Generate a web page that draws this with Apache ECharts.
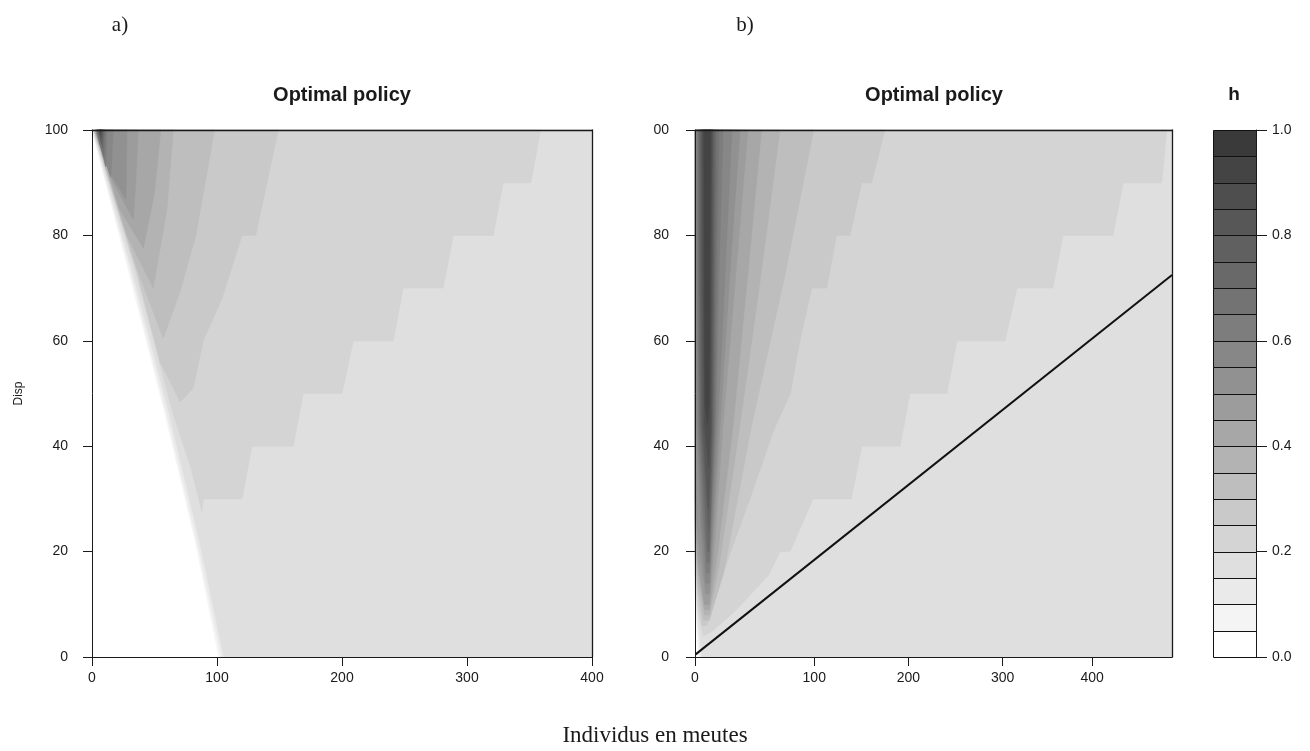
<!DOCTYPE html>
<html>
<head>
<meta charset="utf-8">
<script src="https://cdn.jsdelivr.net/npm/echarts@6/dist/echarts.min.js"></script>
<style>
  html, body { margin: 0; padding: 0; background: #ffffff; }
  #chart { width: 1310px; height: 751px; }
</style>
</head>
<body>
<div id="chart"></div>
<script>
// Contour levels of h (lower bound of each filled band)
const hLevels = [0.00, 0.05, 0.10, 0.15, 0.20, 0.25, 0.30, 0.35, 0.40, 0.45,
                 0.50, 0.55, 0.60, 0.65, 0.70, 0.75, 0.80, 0.85, 0.90, 0.95];
// Grey shade of each band, light (low h) to dark (high h)
const bandColors = ['#ffffff', '#f4f4f4', '#eaeaea', '#dfdfdf', '#d4d4d4', '#c9c9c9',
                    '#bebebe', '#b3b3b3', '#a7a7a7', '#9c9c9c', '#919191', '#878787',
                    '#7d7d7d', '#737373', '#696969', '#606060', '#575757', '#4e4e4e',
                    '#444444', '#3a3a3a'];

// Panel a): level of each region (h >= level) and its outline [Individus, Disp]
const leftRegionLevels = [0.05, 0.10, 0.15, 0.20, 0.25, 0.30, 0.35, 0.40, 0.45,
                          0.50, 0.55, 0.60, 0.65, 0.70, 0.75, 0.80, 0.85, 0.90];
const leftRegions = [
  [[0,100],[400,100],[400,0],[101.5,0],[82.5,22],[58.5,46],[29.5,73]],
  [[0.4,100],[400,100],[400,0],[103.5,0],[84,22],[60,46],[31,73]],
  [[0.8,100],[400,100],[400,0],[105.5,0],[86,22],[62,46],[32.5,73]],
  [[1.2,100],[359,100],[351,90],[329,90],[321,80],[289,80],[281,70],[249,70],[241,60],[209,60],
   [200,50],[169,50],[161,40],[128,40],[120,30],[89,30],[88,27.5],[79,36],[65,46],[35,73]],
  [[1.5,100],[149,100],[131,80],[120,80],[104,68],[89,60],[81,51],[70.5,48.4],[54.5,56],[36,73]],
  [[1.8,100],[98,100],[83,80],[70,69],[57,60.5],[37,73],[19.5,86]],
  [[2.1,100],[65,100],[60,85],[49,70],[28,80],[15,90]],
  [[2.4,100],[55,100],[50,88],[41,77.6],[22,85],[12,93]],
  [[2.7,100],[37,100],[35,90],[33,83],[17,90],[9,95]],
  [[3,100],[28,100],[27,87],[14,92],[8,96]],
  [[3.3,100],[17,100],[15,91],[9.5,95]],
  [[3.6,100],[12,100],[11,93],[8,96]],
  [[4,100],[10.5,100],[9.5,95],[6,97.5]],
  [[4.5,100],[9.5,100],[8.5,96.5],[6,98.5]],
  [[5,100],[8.8,100],[7.8,97.5]],
  [[5.5,100],[8.2,100],[7.2,98.3]],
  [[6,100],[7.6,100],[6.8,99]],
  [[6.4,100],[7.2,100],[6.8,99.6]]
];

// Panel b): same layout of regions
const rightRegionLevels = [0.05, 0.10, 0.15, 0.20, 0.25, 0.30, 0.35, 0.40, 0.45,
                           0.50, 0.55, 0.60, 0.65, 0.70, 0.75, 0.80, 0.85, 0.90];
const rightRegions = [
  [[0,10],[0,100],[400,100],[400,0],[3,0]],
  [[0,12],[0,100],[400,100],[400,0],[4.5,0]],
  [[0,14],[0,100],[400,100],[400,0],[6,0],[3,6]],
  [[0,16],[0,100],[395.6,100],[391.4,90],[359,90],[350.5,80],[308.6,80],[300.2,70],[270,70],
   [260,60],[219.7,60],[211.3,50],[180.3,50],[172,40],[140,40],[131,30],[99,30],[79.7,20],
   [71.3,20],[61.6,15.5],[35,9],[15,5],[7,4],[3,8]],
  [[0,18],[0,100],[159.3,100],[148.2,90],[139.8,90],[130,80],[118.8,80],[110.4,70],[98,70],
   [88,60],[80,50],[66,43],[54.5,35.5],[46,30],[30,20],[18,12],[10,6],[6,6],[3,10]],
  [[0,20],[0,100],[99.5,100],[75,72],[47.5,44],[24,16],[12,7],[7,7],[3,12]],
  [[0,22],[0,100],[71.2,100],[55,72],[37.7,44],[20,17],[12,8],[8,8],[3,14]],
  [[0,24],[0,100],[55.8,100],[44,72],[32,44],[18,18],[12,9],[8,9],[3,16]],
  [[0,26],[0,100],[44.3,100],[34,72],[23.5,44],[16,20],[12,10],[8,10],[3,18]],
  [[0,30],[0,100],[37.7,100],[29,72],[21,44],[15,22],[12,12],[9,12],[3,22]],
  [[0.5,100],[31,100],[25,72],[19,44],[14.5,24],[12,14],[9,14],[5,24],[1.5,44],[0.5,72]],
  [[1.5,100],[23.6,100],[20,72],[17.5,44],[14,26],[12,16],[9.5,16],[6,26],[2.5,44],[1.5,72]],
  [[2.5,100],[20,100],[18,72],[16.5,44],[13.5,28],[12,18],[10,18],[7,28],[3.5,44],[2.5,72]],
  [[3.5,100],[17.5,100],[16.5,72],[15.5,44],[13.5,30],[12,20],[10.5,20],[8,30],[4.5,44],[3.5,72]],
  [[4.5,100],[16,100],[15.5,72],[14.5,44],[13,32],[11.5,24],[9,32],[5.5,44],[4.5,72]],
  [[5.5,100],[15,100],[14.5,72],[13.8,44],[12.5,34],[11,28],[9.5,34],[6.5,44],[5.5,72]],
  [[6.5,100],[14,100],[13.5,72],[13,44],[11.5,36],[8,44],[6.8,72]],
  [[7.5,100],[13,100],[12.5,72],[12,48],[10.5,44],[8.5,48],[8,72]]
];

// Threshold line drawn on panel b)
const thresholdLine = [[0.5, 0.5], [400, 72.5]];

// Axis ticks
const dispTicks = [0, 20, 40, 60, 80, 100];
const indTicks = [0, 100, 200, 300, 400];
const rightXTickPos = [0, 100, 179, 258, 333];
const rightXTickText = ['0', '100', '200', '300', '400'];
const hTicks = [0, 0.2, 0.4, 0.6, 0.8, 1.0];

const FONT = '"Liberation Sans", Arial, sans-serif';
const SERIF = '"Liberation Serif", "Times New Roman", serif';
const INK = '#1a1a1a';

function colorOf(level) {
  const idx = Math.round(level / 0.05);
  return bandColors[Math.min(idx, bandColors.length - 1)];
}

function regionSeries(levels, shapes, gi) {
  return {
    type: 'custom',
    coordinateSystem: 'cartesian2d',
    xAxisIndex: gi, yAxisIndex: gi,
    silent: true,
    z: 2,
    data: levels.map((lv, i) => [i, lv]),
    encode: { x: -1, y: -1 },
    renderItem: function (params, api) {
      const i = api.value(0);
      const pts = shapes[i].map(p => api.coord(p));
      return {
        type: 'polygon',
        shape: { points: pts },
        style: { fill: colorOf(levels[i]), stroke: colorOf(levels[i]), lineWidth: 0.6 }
      };
    }
  };
}

function baseXAxis(gi, extra) {
  return Object.assign({
    gridIndex: gi, type: 'value', min: indTicks[0], max: indTicks[indTicks.length - 1],
    interval: indTicks[1] - indTicks[0], position: 'bottom',
    z: 10,
    axisLine: { show: true, onZero: false, lineStyle: { color: INK, width: 1 } },
    axisTick: { show: true, inside: false, length: 9, lineStyle: { color: INK } },
    axisLabel: { fontFamily: FONT, fontSize: 14, color: INK, margin: 14 },
    splitLine: { show: false }
  }, extra || {});
}
function baseYAxis(gi, extra) {
  return Object.assign({
    gridIndex: gi, type: 'value', min: dispTicks[0], max: dispTicks[dispTicks.length - 1],
    interval: dispTicks[1] - dispTicks[0], position: 'left',
    z: 10,
    axisLine: { show: true, onZero: false, lineStyle: { color: INK, width: 1 } },
    axisTick: { show: true, inside: false, length: 9, lineStyle: { color: INK } },
    axisLabel: { fontFamily: FONT, fontSize: 14, color: INK, margin: 24 },
    splitLine: { show: false }
  }, extra || {});
}
function frameAxis(kind, gi, pos) {
  return {
    gridIndex: gi, type: 'value', position: pos, z: 10,
    min: 0, max: kind === 'x' ? 400 : 100,
    axisLine: { show: true, onZero: false, lineStyle: { color: INK, width: 1.3 } },
    axisTick: { show: false }, axisLabel: { show: false }, splitLine: { show: false }
  };
}

const chart = echarts.init(document.getElementById('chart'), null, { renderer: 'canvas' });

const option = {
  backgroundColor: '#ffffff',
  animation: false,
  grid: [
    { left: 92, top: 130, width: 500, height: 527 },
    { left: 695, top: 130, width: 477, height: 527 },
    { left: 1213, top: 130, width: 43, height: 527 }
  ],
  xAxis: [
    baseXAxis(0),
    baseXAxis(1, {
      axisTick: { show: true, inside: false, length: 9, lineStyle: { color: INK }, customValues: rightXTickPos },
      axisLabel: {
        fontFamily: FONT, fontSize: 14, color: INK, margin: 14, customValues: rightXTickPos,
        formatter: v => rightXTickText[rightXTickPos.indexOf(v)]
      }
    }),
    { gridIndex: 2, type: 'value', min: 0, max: 1, show: false },
    frameAxis('x', 0, 'top'),
    frameAxis('x', 1, 'top')
  ],
  yAxis: [
    baseYAxis(0, {
      name: 'Disp', nameLocation: 'middle', nameGap: 67,
      nameTextStyle: { fontFamily: FONT, fontSize: 12, color: INK }
    }),
    baseYAxis(1, { axisLabel: { fontFamily: FONT, fontSize: 14, color: INK, margin: 26 } }),
    {
      gridIndex: 2, type: 'value', min: hTicks[0], max: hTicks[hTicks.length - 1],
      interval: 0.2, position: 'right', z: 10,
      axisLine: { show: true, onZero: false, lineStyle: { color: INK } },
      axisTick: { show: true, inside: false, length: 11, lineStyle: { color: INK } },
      axisLabel: { fontFamily: FONT, fontSize: 14, color: INK, margin: 16, formatter: v => v.toFixed(1) },
      splitLine: { show: false }
    },
    frameAxis('y', 0, 'right'),
    frameAxis('y', 1, 'right')
  ],
  series: [
    regionSeries(leftRegionLevels, leftRegions, 0),
    regionSeries(rightRegionLevels, rightRegions, 1),
    {
      type: 'line', xAxisIndex: 1, yAxisIndex: 1, data: thresholdLine,
      symbol: 'none', silent: true, z: 5,
      lineStyle: { color: '#111111', width: 2 }
    },
    {
      type: 'custom', coordinateSystem: 'cartesian2d', xAxisIndex: 2, yAxisIndex: 2,
      silent: true, z: 3,
      data: hLevels.map((lv, i) => [i, lv]),
      encode: { x: -1, y: -1 },
      renderItem: function (params, api) {
        const i = api.value(0);
        const lo = hLevels[i];
        const hi = i + 1 < hLevels.length ? hLevels[i + 1] : 1.0;
        const a = api.coord([0, lo]);
        const b = api.coord([1, hi]);
        const x0 = Math.round(a[0]) + 0.5, x1 = Math.round(b[0]) + 0.5;
        const y0 = Math.round(a[1]) + 0.5, y1 = Math.round(b[1]) + 0.5;
        return {
          type: 'rect',
          shape: { x: x0, y: y1, width: x1 - x0, height: y0 - y1 },
          style: { fill: bandColors[i], stroke: '#111111', lineWidth: 1 }
        };
      }
    }
  ],
  graphic: [
    { type: 'text', x: 120, y: 25, style: { text: 'a)', font: '21px ' + SERIF, fill: INK, align: 'center', verticalAlign: 'middle' } },
    { type: 'text', x: 745, y: 25, style: { text: 'b)', font: '21px ' + SERIF, fill: INK, align: 'center', verticalAlign: 'middle' } },
    { type: 'text', x: 342, y: 95, style: { text: 'Optimal policy', font: 'bold 20px ' + FONT, fill: INK, align: 'center', verticalAlign: 'middle' } },
    { type: 'text', x: 934, y: 95, style: { text: 'Optimal policy', font: 'bold 20px ' + FONT, fill: INK, align: 'center', verticalAlign: 'middle' } },
    { type: 'text', x: 1234, y: 95, style: { text: 'h', font: 'bold 19px ' + FONT, fill: INK, align: 'center', verticalAlign: 'middle' } },
    { type: 'text', x: 655, y: 736, style: { text: 'Individus en meutes', font: '23px ' + SERIF, fill: INK, align: 'center', verticalAlign: 'middle' } },
    // the panel b) left margin is cut, hiding the leading digit of its top label
    { type: 'rect', z: 100, shape: { x: 628, y: 118, width: 26, height: 24 }, style: { fill: '#ffffff' } }
  ]
};

chart.setOption(option);
</script>
</body>
</html>
